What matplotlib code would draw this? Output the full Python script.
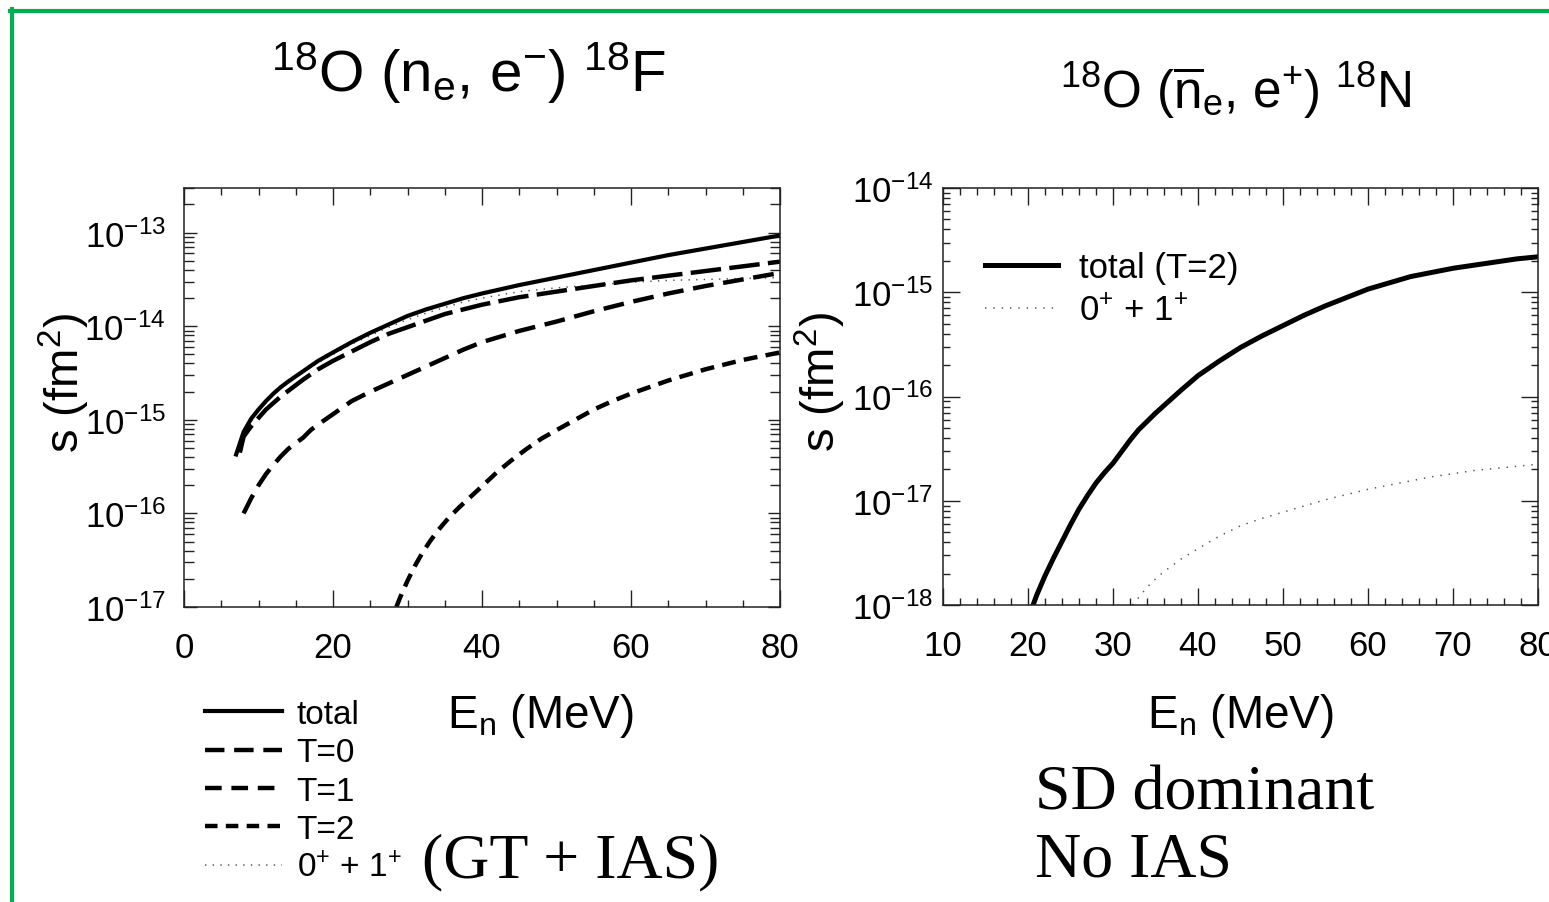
import numpy as np
import matplotlib
matplotlib.use("Agg")
import matplotlib.pyplot as plt
from matplotlib.lines import Line2D
from matplotlib.ticker import MultipleLocator, NullFormatter

plt.rcParams['font.family'] = ['Liberation Sans', 'DejaVu Sans']
plt.rcParams['mathtext.fontset'] = 'custom'
plt.rcParams['mathtext.rm'] = 'Liberation Sans'
plt.rcParams['mathtext.it'] = 'Liberation Sans:italic'
plt.rcParams['mathtext.bf'] = 'Liberation Sans:bold'
plt.rcParams['lines.scale_dashes'] = False

# ---- 18O(nu_e, e-)18F : log10 of cross section in fm^2 ----
e_total = [7, 7.5, 8, 9, 10, 11, 12, 13, 14, 16, 18, 20, 22.5, 25, 27.5, 30,
           32.5, 35, 37.5, 40, 45, 50, 55, 60, 65, 70, 75, 80]
lg_total = [-15.37, -15.25, -15.13, -14.99, -14.89, -14.80, -14.72, -14.65,
            -14.59, -14.48, -14.37, -14.28, -14.17, -14.07, -13.98, -13.89,
            -13.82, -13.76, -13.70, -13.65, -13.56, -13.48, -13.40, -13.32,
            -13.24, -13.17, -13.10, -13.03]

e_t0 = [7.5, 8, 9, 10, 11, 12, 13, 14, 16, 18, 20, 22.5, 25, 27.5, 30, 32.5,
        35, 37.5, 40, 45, 50, 55, 60, 65, 70, 75, 80]
lg_t0 = [-15.35, -15.18, -15.07, -14.98, -14.89, -14.82, -14.75, -14.69,
         -14.57, -14.46, -14.37, -14.27, -14.17, -14.08, -14.01, -13.94,
         -13.87, -13.82, -13.77, -13.69, -13.63, -13.57, -13.51, -13.46,
         -13.41, -13.36, -13.31]

e_t1 = [8, 9, 10, 11, 12, 13, 14, 15, 16, 17, 18, 20, 22.5, 25, 27.5, 30,
        32.5, 35, 37.5, 40, 45, 50, 55, 60, 65, 70, 75, 80]
lg_t1 = [-16.00, -15.84, -15.70, -15.58, -15.48, -15.39, -15.31, -15.25,
         -15.19, -15.11, -15.05, -14.94, -14.80, -14.70, -14.61, -14.52,
         -14.43, -14.34, -14.25, -14.17, -14.05, -13.95, -13.84, -13.74,
         -13.65, -13.57, -13.50, -13.43]

e_t2 = [28.5, 29, 30, 31, 32, 33, 34, 35.5, 37, 38.5, 40, 42, 44, 46, 48, 50,
        52.5, 55, 57.5, 60, 62.5, 65, 67.5, 70, 72.5, 75, 77.5, 80]
lg_t2 = [-17.00, -16.90, -16.72, -16.56, -16.42, -16.30, -16.19, -16.05,
         -15.93, -15.82, -15.71, -15.56, -15.43, -15.31, -15.20, -15.11,
         -15.00, -14.89, -14.80, -14.72, -14.65, -14.58, -14.52, -14.46,
         -14.41, -14.36, -14.32, -14.28]

e_gt = [7, 8, 10, 12, 14, 16, 18, 20, 22.5, 25, 27.5, 30, 32.5, 35, 37.5, 40,
        45, 50, 55, 60, 65, 70, 75, 80]
lg_gt = [-15.38, -15.14, -14.90, -14.73, -14.60, -14.49, -14.39, -14.30,
         -14.19, -14.10, -14.01, -13.93, -13.86, -13.80, -13.74, -13.70,
         -13.63, -13.59, -13.56, -13.53, -13.51, -13.50, -13.49, -13.48]

# ---- 18O(anti-nu_e, e+)18N ----
e_total_b = [20.6, 21, 22, 23, 24, 25, 26, 27, 28, 29, 30, 31, 32, 33, 34, 35,
             36.5, 38, 40, 42.5, 45, 47.5, 50, 52.5, 55, 57.5, 60, 62.5, 65,
             67.5, 70, 72.5, 75, 77.5, 80]
lg_total_b = [-18.00, -17.91, -17.72, -17.55, -17.39, -17.23, -17.08, -16.95,
              -16.83, -16.73, -16.64, -16.53, -16.42, -16.32, -16.24, -16.16,
              -16.05, -15.94, -15.80, -15.66, -15.53, -15.42, -15.32, -15.22,
              -15.13, -15.05, -14.97, -14.91, -14.85, -14.81, -14.77, -14.74,
              -14.71, -14.68, -14.66]

e_gt_b = [32.3, 33, 34, 35, 36, 38, 40, 42.5, 45, 47.5, 50, 52.5, 55, 57.5,
          60, 62.5, 65, 67.5, 70, 72.5, 75, 77.5, 80]
lg_gt_b = [-18.00, -17.93, -17.83, -17.75, -17.68, -17.56, -17.46, -17.34,
           -17.24, -17.17, -17.11, -17.05, -16.99, -16.94, -16.89, -16.85,
           -16.81, -16.77, -16.74, -16.71, -16.69, -16.67, -16.65]


def sig(lg):
    return 10.0 ** np.asarray(lg)


W, H = 1549, 903
fig = plt.figure(figsize=(W / 100, H / 100), dpi=100)


def box(l, t, r, b):
    return [l / W, 1 - b / H, (r - l) / W, (b - t) / H]


ax1 = fig.add_axes(box(184, 189, 780, 608))
ax2 = fig.add_axes(box(943, 189, 1538, 606))

dot_col = '#555555'
kw = dict(solid_joinstyle='round', dash_joinstyle='round')
ax1.plot(e_gt, sig(lg_gt), color=dot_col, lw=1.1, dashes=(1, 4.5))
ax1.plot(e_t2, sig(lg_t2), color='k', lw=3.2, dashes=(10, 6), **kw)
ax1.plot(e_t1, sig(lg_t1), color='k', lw=3.2, dashes=(15, 7), **kw)
ax1.plot(e_t0, sig(lg_t0), color='k', lw=3.2, dashes=(22, 6), **kw)
ax1.plot(e_total, sig(lg_total), color='k', lw=3.0, **kw)

ax2.plot(e_gt_b, sig(lg_gt_b), color=dot_col, lw=1.1, dashes=(1, 5))
ax2.plot(e_total_b, sig(lg_total_b), color='k', lw=3.6, **kw)

ax1.set_xlim(0, 80)
ax1.set_ylim(1e-17, 3e-13)
ax2.set_xlim(10, 80)
ax2.set_ylim(1e-18, 1e-14)

for ax in (ax1, ax2):
    ax.set_yscale('log')
    ax.yaxis.set_minor_formatter(NullFormatter())
    ax.tick_params(which='both', direction='in', top=True, right=True,
                   width=1.0, color='#222222', labelsize=25)
    for sp in ax.spines.values():
        sp.set_linewidth(1.1)
        sp.set_color('#222222')

ax1.xaxis.set_major_locator(MultipleLocator(20))
ax1.xaxis.set_minor_locator(MultipleLocator(5))
ax2.xaxis.set_major_locator(MultipleLocator(10))
ax2.xaxis.set_minor_locator(MultipleLocator(2))

ax1.tick_params(axis='x', which='major', length=12, pad=17)
ax1.tick_params(axis='x', which='minor', length=5)
ax1.tick_params(axis='y', which='major', length=9, pad=13)
ax1.tick_params(axis='y', which='minor', length=7)
ax2.tick_params(axis='x', which='major', length=12, pad=17)
ax2.tick_params(axis='x', which='minor', length=5)
ax2.tick_params(axis='y', which='major', length=12, pad=7)
ax2.tick_params(axis='y', which='minor', length=5)

# titles
fig.text(468 / W, 1 - 92 / H, r'$^{18}$O (n$_{\mathrm{e}}$, e$^{-}$) $^{18}$F',
         fontsize=42, ha='center', va='baseline')
fig.text(1236 / W, 1 - 108 / H,
         r'$^{18}$O ($\overline{\mathrm{n}}_{\mathrm{e}}$, e$^{+}$) $^{18}$N',
         fontsize=37, ha='center', va='baseline')

# axis labels
fig.text(447 / W, 1 - 728 / H, r'E$_{\mathrm{n}}$ (MeV)', fontsize=33,
         ha='left', va='baseline')
fig.text(1147 / W, 1 - 728 / H, r'E$_{\mathrm{n}}$ (MeV)', fontsize=33,
         ha='left', va='baseline')
fig.text(64 / W, 1 - 383 / H, r's (fm$^{2}$)', fontsize=34, rotation=90,
         ha='center', va='center')
fig.text(820 / W, 1 - 382 / H, r's (fm$^{2}$)', fontsize=34, rotation=90,
         ha='center', va='center')

# notes
serif = ['Liberation Serif', 'DejaVu Serif']
fig.text(422 / W, 1 - 877 / H, '(GT + IAS)', fontsize=46, family=serif,
         ha='left', va='baseline')
fig.text(1035 / W, 1 - 810 / H, 'SD dominant', fontsize=46, family=serif,
         ha='left', va='baseline')
fig.text(1035 / W, 1 - 877 / H, 'No IAS', fontsize=46, family=serif,
         ha='left', va='baseline')

# legends
h_left = [
    Line2D([], [], color='k', lw=3.0),
    Line2D([], [], color='k', lw=3.2, dashes=(14, 7)),
    Line2D([], [], color='k', lw=3.2, dashes=(12, 7)),
    Line2D([], [], color='k', lw=3.2, dashes=(9, 6)),
    Line2D([], [], color=dot_col, lw=1.1, dashes=(1, 4.5)),
]
lab_left = ['total', 'T=0', 'T=1', 'T=2', r'0$^{+}$ + 1$^{+}$']
fig.legend(h_left, lab_left, loc='upper left',
           bbox_to_anchor=(205 / W, 1 - 700 / H), frameon=False,
           fontsize=24, handlelength=2.3, handletextpad=0.45,
           labelspacing=0.22, borderpad=0, borderaxespad=0)

h_right = [
    Line2D([], [], color='k', lw=3.6),
    Line2D([], [], color=dot_col, lw=1.1, dashes=(1, 5)),
]
ax2.legend(h_right, ['total (T=2)', r'0$^{+}$ + 1$^{+}$'], loc='upper left',
           bbox_to_anchor=((985 - 943) / 595, (606 - 252) / 417),
           frameon=False, fontsize=25, handlelength=2.1,
           handletextpad=0.6, labelspacing=0.3, borderpad=0,
           borderaxespad=0)

# green slide frame
green = '#00b050'
fig.add_artist(Line2D([10 / W, 1], [1 - 12 / H, 1 - 12 / H], color=green,
                      lw=3, transform=fig.transFigure))
fig.add_artist(Line2D([12 / W, 12 / W], [0, 1 - 10 / H], color=green,
                      lw=3, transform=fig.transFigure))

fig.savefig('out.png', dpi=100)
